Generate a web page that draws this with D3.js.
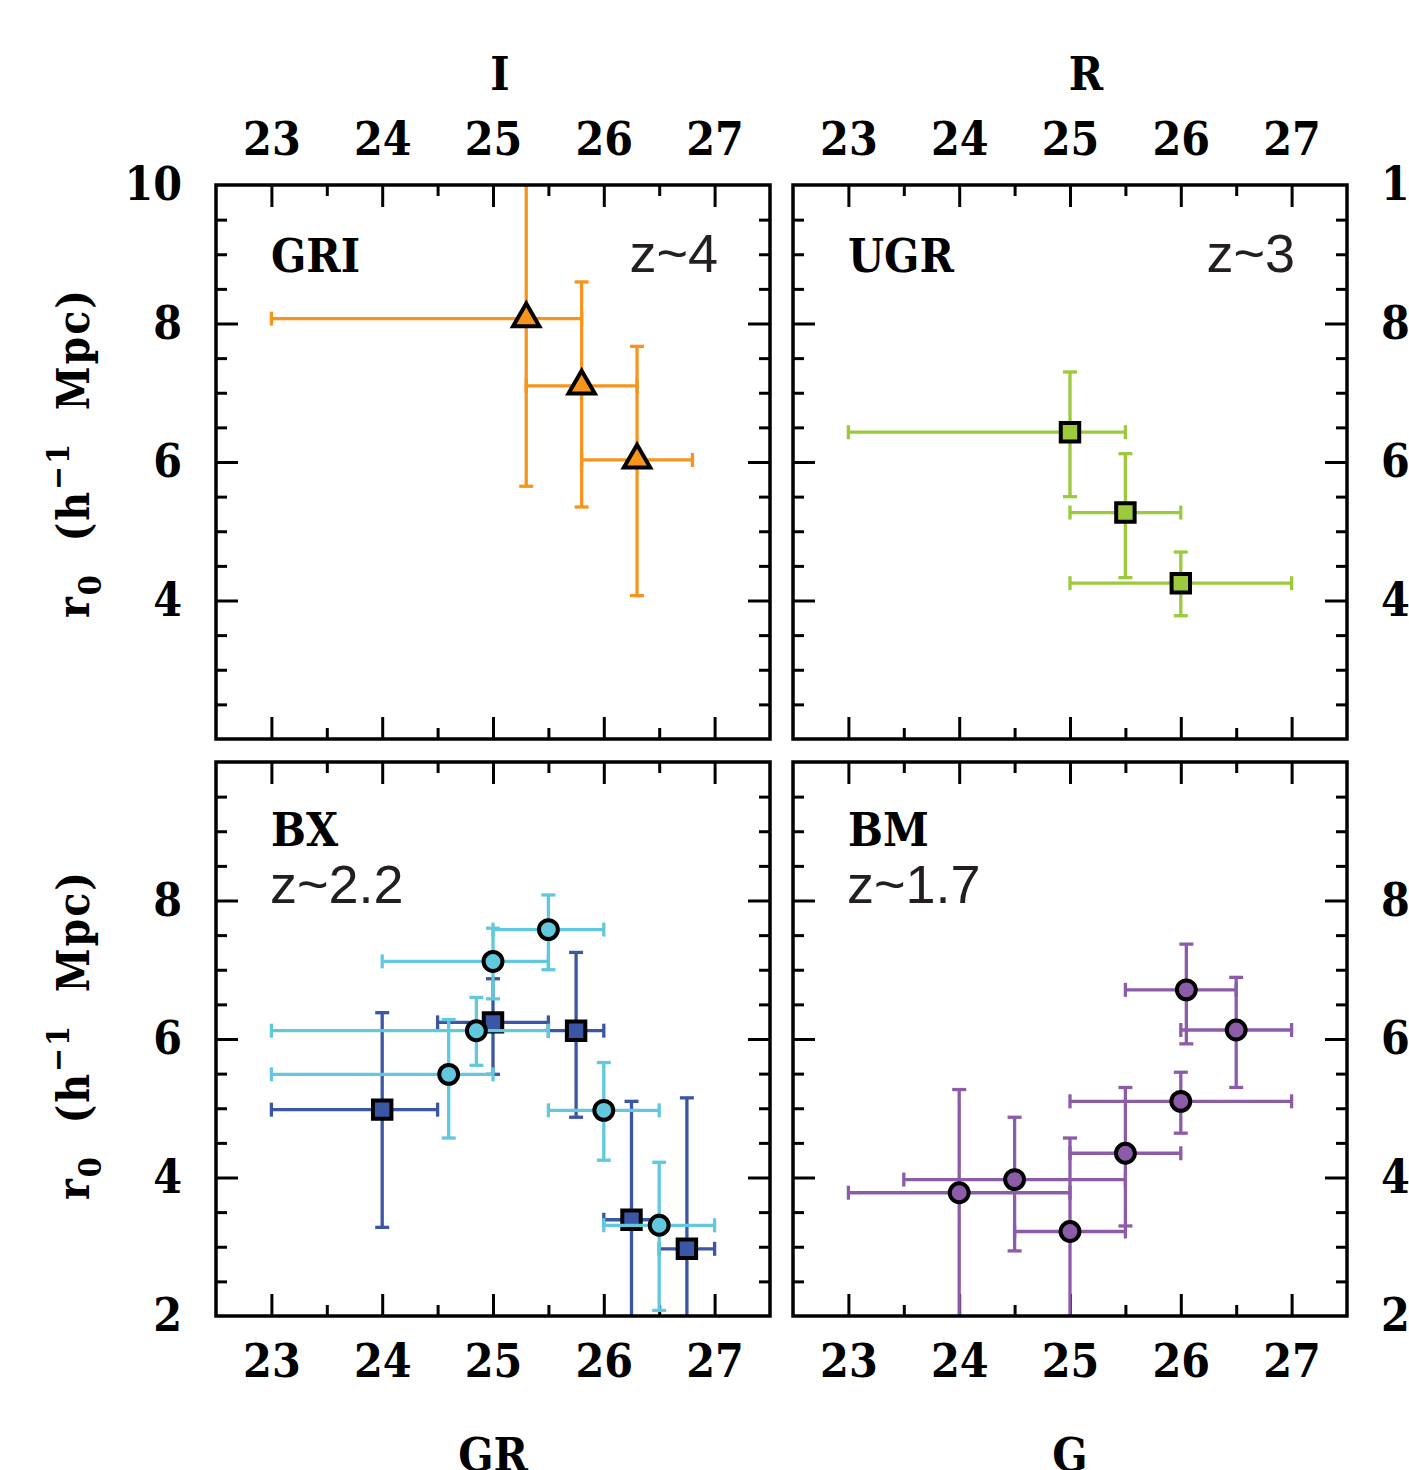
<!DOCTYPE html>
<html>
<head>
<meta charset="utf-8">
<script src="https://cdn.jsdelivr.net/npm/d3@7"></script>
<style>
  body { margin: 0; background: #fff; }
  svg { display: block; }
</style>
</head>
<body>
<div id="chart"></div>
<script>
// ---- data ----
const xTicksMajor = [23, 24, 25, 26, 27];
const xTicksMinor = [23.5, 24.5, 25.5, 26.5];
const yTicksMajor = [4, 6, 8];
const yTicksMinor = [2.5, 3, 3.5, 4.5, 5, 5.5, 6.5, 7, 7.5, 8.5, 9, 9.5];
const yLabelsTop = [4, 6, 8, 10];
const yLabelsBottom = [2, 4, 6, 8];

// GRI, z~4 (triangles)
const griX = [25.3, 25.8, 26.3];
const griY = [8.07, 7.1, 6.03];
const griXLo = [23.0, 25.3, 25.8];
const griXHi = [25.8, 26.3, 26.8];
const griYLo = [5.65, 5.35, 4.07];
const griYHi = [10.6, 8.6, 7.67];

// UGR, z~3 (squares)
const ugrX = [25.0, 25.5, 26.0];
const ugrY = [6.43, 5.27, 4.25];
const ugrXLo = [23.0, 25.0, 25.0];
const ugrXHi = [25.5, 26.0, 27.0];
const ugrYLo = [5.5, 4.33, 3.78];
const ugrYHi = [7.3, 6.12, 4.7];

// BX, z~2.2 (squares)
const bxSqX = [24.0, 25.0, 25.75, 26.25, 26.75];
const bxSqY = [4.98, 6.24, 6.12, 3.39, 2.97];
const bxSqXLo = [23.0, 24.5, 25.5, 26.0, 26.5];
const bxSqXHi = [24.5, 25.5, 26.0, 26.5, 27.0];
const bxSqYLo = [3.28, 5.49, 4.87, 1.5, 1.5];
const bxSqYHi = [6.38, 6.87, 7.25, 5.1, 5.15];

// BX, z~2.2 (circles)
const bxCiX = [24.6, 24.85, 25.0, 25.5, 26.0, 26.5];
const bxCiY = [5.49, 6.12, 7.12, 7.58, 4.97, 3.31];
const bxCiXLo = [23.0, 23.0, 24.0, 25.0, 25.5, 26.0];
const bxCiXHi = [25.0, 25.5, 25.5, 26.0, 26.5, 27.0];
const bxCiYLo = [4.57, 5.62, 6.58, 7.0, 4.25, 2.08];
const bxCiYHi = [6.28, 6.6, 7.6, 8.08, 5.66, 4.22];

// BM, z~1.7 (circles)
const bmX = [24.0, 24.5, 25.0, 25.5, 26.0, 26.05, 26.5];
const bmY = [3.78, 3.97, 3.22, 4.35, 5.1, 6.71, 6.13];
const bmXLo = [23.0, 23.5, 24.5, 25.0, 25.0, 25.5, 26.0];
const bmXHi = [25.0, 25.5, 25.5, 26.0, 27.0, 26.5, 27.0];
const bmYLo = [1.5, 2.94, 1.5, 3.3, 4.64, 5.93, 5.3];
const bmYHi = [5.27, 4.87, 4.57, 5.3, 5.52, 7.37, 6.89];

const series = (x, y, xlo, xhi, ylo, yhi) =>
  x.map((d, i) => ({ x: d, y: y[i], xlo: xlo[i], xhi: xhi[i], ylo: ylo[i], yhi: yhi[i] }));

const W = 1409, H = 1470, SIZE = 554;
const serifFont = `"DejaVu Serif Condensed", "DejaVu Serif", serif`;
const sansFont = `"Liberation Sans", Arial, sans-serif`;

const panels = [
  { left: 216, top: 185, name: `GRI`, z: `z~4`, zRight: true, yLabels: yLabelsTop, labelSide: `left`,
    xLabelSide: `top`, title: `I`, titleX: 500,
    sets: [{ data: series(griX, griY, griXLo, griXHi, griYLo, griYHi), color: `#f7941d`, mark: `triangle` }] },
  { left: 793, top: 185, name: `UGR`, z: `z~3`, zRight: true, yLabels: yLabelsTop, labelSide: `right`,
    xLabelSide: `top`, title: `R`, titleX: 1086,
    sets: [{ data: series(ugrX, ugrY, ugrXLo, ugrXHi, ugrYLo, ugrYHi), color: `#9bca3c`, mark: `square` }] },
  { left: 216, top: 762, name: `BX`, z: `z~2.2`, zRight: false, yLabels: yLabelsBottom, labelSide: `left`,
    xLabelSide: `bottom`, title: `GR`, titleX: 493,
    sets: [
      { data: series(bxSqX, bxSqY, bxSqXLo, bxSqXHi, bxSqYLo, bxSqYHi), color: `#3a56a5`, mark: `square` },
      { data: series(bxCiX, bxCiY, bxCiXLo, bxCiXHi, bxCiYLo, bxCiYHi), color: `#62c8de`, mark: `circle` }
    ] },
  { left: 793, top: 762, name: `BM`, z: `z~1.7`, zRight: false, yLabels: yLabelsBottom, labelSide: `right`,
    xLabelSide: `bottom`, title: `G`, titleX: 1070,
    sets: [{ data: series(bmX, bmY, bmXLo, bmXHi, bmYLo, bmYHi), color: `#8c5ca8`, mark: `circle` }] }
];

const svg = d3.select(`#chart`).append(`svg`)
    .attr(`width`, W)
    .attr(`height`, H)
    .attr(`viewBox`, `0 0 ${W} ${H}`);

const defs = svg.append(`defs`);

const serifText = (sel, size) => sel
    .style(`font-family`, serifFont)
    .style(`font-stretch`, `condensed`)
    .style(`font-weight`, `bold`)
    .style(`font-size`, `${size}px`);

const styleTicks = (g, width) => {
  g.select(`.domain`).remove();
  g.selectAll(`.tick line`).attr(`stroke`, `#000`).attr(`stroke-width`, width);
};

const styleLabels = (g) => {
  g.select(`.domain`).remove();
  g.selectAll(`.tick line`).remove();
  g.selectAll(`.tick text`).attr(`fill`, `#000`).call(serifText, 46);
};

panels.forEach((p, pi) => {
  const x = d3.scaleLinear().domain([22.5, 27.5]).range([p.left, p.left + SIZE]);
  const y = d3.scaleLinear().domain([2, 10]).range([p.top + SIZE, p.top]);
  const right = p.left + SIZE, bottom = p.top + SIZE;

  defs.append(`clipPath`).attr(`id`, `clip${pi}`)
    .append(`rect`)
      .attr(`x`, p.left).attr(`y`, p.top)
      .attr(`width`, SIZE).attr(`height`, SIZE);

  const g = svg.append(`g`);

  // inward ticks on all four sides
  [[xTicksMajor, 22], [xTicksMinor, 11]].forEach(([vals, len]) => {
    g.append(`g`).attr(`transform`, `translate(0,${bottom})`)
      .call(d3.axisBottom(x).tickValues(vals).tickSize(-len).tickFormat(``))
      .call(styleTicks, 3);
    g.append(`g`).attr(`transform`, `translate(0,${p.top})`)
      .call(d3.axisTop(x).tickValues(vals).tickSize(-len).tickFormat(``))
      .call(styleTicks, 3);
  });
  [[yTicksMajor, 22], [yTicksMinor, 11]].forEach(([vals, len]) => {
    g.append(`g`).attr(`transform`, `translate(${p.left},0)`)
      .call(d3.axisLeft(y).tickValues(vals).tickSize(-len).tickFormat(``))
      .call(styleTicks, 3);
    g.append(`g`).attr(`transform`, `translate(${right},0)`)
      .call(d3.axisRight(y).tickValues(vals).tickSize(-len).tickFormat(``))
      .call(styleTicks, 3);
  });

  // tick labels
  if (p.labelSide === `left`) {
    g.append(`g`).attr(`transform`, `translate(${p.left},0)`)
      .call(d3.axisLeft(y).tickValues(p.yLabels).tickSize(0).tickPadding(34).tickFormat(d3.format(`d`)))
      .call(styleLabels);
  } else {
    g.append(`g`).attr(`transform`, `translate(${right},0)`)
      .call(d3.axisRight(y).tickValues(p.yLabels).tickSize(0).tickPadding(34).tickFormat(d3.format(`d`)))
      .call(styleLabels);
  }
  if (p.xLabelSide === `top`) {
    g.append(`g`).attr(`transform`, `translate(0,${p.top})`)
      .call(d3.axisTop(x).tickValues(xTicksMajor).tickSize(0).tickPadding(30).tickFormat(d3.format(`d`)))
      .call(styleLabels);
    g.append(`text`)
        .attr(`x`, p.titleX).attr(`y`, 90)
        .attr(`text-anchor`, `middle`)
        .call(serifText, 46)
        .text(p.title);
  } else {
    g.append(`g`).attr(`transform`, `translate(0,${bottom})`)
      .call(d3.axisBottom(x).tickValues(xTicksMajor).tickSize(0).tickPadding(28).tickFormat(d3.format(`d`)))
      .call(styleLabels);
    g.append(`text`)
        .attr(`x`, p.titleX).attr(`y`, 1471)
        .attr(`text-anchor`, `middle`)
        .call(serifText, 46)
        .text(p.title);
  }

  // panel texts
  g.append(`text`)
      .attr(`x`, p.left + 55).attr(`y`, p.zRight ? p.top + 87 : p.top + 84)
      .call(serifText, 46)
      .text(p.name);
  g.append(`text`)
      .attr(`x`, p.zRight ? right - 52 : p.left + 54)
      .attr(`y`, p.zRight ? p.top + 87 : p.top + 141)
      .attr(`text-anchor`, p.zRight ? `end` : `start`)
      .attr(`fill`, `#231f20`)
      .style(`font-family`, sansFont).style(`font-size`, `54px`)
      .text(p.z);

  // data
  const plot = g.append(`g`).attr(`clip-path`, `url(#clip${pi})`);
  const cap = 7;
  p.sets.forEach((s) => {
    const eb = plot.append(`g`)
        .attr(`stroke`, s.color)
        .attr(`stroke-width`, 3.3)
        .attr(`fill`, `none`);
    const pts = eb.selectAll(`g`).data(s.data).enter().append(`g`);
    pts.append(`line`)
        .attr(`x1`, (d) => x(d.xlo)).attr(`x2`, (d) => x(d.xhi))
        .attr(`y1`, (d) => y(d.y)).attr(`y2`, (d) => y(d.y));
    pts.append(`line`)
        .attr(`x1`, (d) => x(d.x)).attr(`x2`, (d) => x(d.x))
        .attr(`y1`, (d) => y(d.ylo)).attr(`y2`, (d) => y(d.yhi));
    [`xlo`, `xhi`].forEach((k) => {
      pts.append(`line`)
          .attr(`x1`, (d) => x(d[k])).attr(`x2`, (d) => x(d[k]))
          .attr(`y1`, (d) => y(d.y) - cap).attr(`y2`, (d) => y(d.y) + cap);
    });
    [`ylo`, `yhi`].forEach((k) => {
      pts.append(`line`)
          .attr(`x1`, (d) => x(d.x) - cap).attr(`x2`, (d) => x(d.x) + cap)
          .attr(`y1`, (d) => y(d[k])).attr(`y2`, (d) => y(d[k]));
    });

    const symType = s.mark === `triangle` ? d3.symbolTriangle
      : s.mark === `square` ? d3.symbolSquare : d3.symbolCircle;
    const symSize = s.mark === `triangle` ? 300 : s.mark === `square` ? 340 : 280;
    plot.append(`g`).selectAll(`path`)
        .data(s.data)
      .enter().append(`path`)
        .attr(`d`, d3.symbol().type(symType).size(symSize))
        .attr(`transform`, (d) => `translate(${x(d.x)},${y(d.y)})`)
        .attr(`fill`, s.color)
        .attr(`stroke`, `#000`)
        .attr(`stroke-width`, 4)
        .attr(`stroke-linejoin`, `miter`);
  });

  // frame
  g.append(`rect`)
      .attr(`x`, p.left).attr(`y`, p.top)
      .attr(`width`, SIZE).attr(`height`, SIZE)
      .attr(`fill`, `none`)
      .attr(`stroke`, `#000`)
      .attr(`stroke-width`, 3.5);
});

// y axis titles: r0 (h^-1 Mpc)
[453, 1035].forEach((cy) => {
  const t = svg.append(`text`)
      .attr(`transform`, `translate(89,${cy}) rotate(-90)`)
      .attr(`text-anchor`, `middle`)
      .style(`letter-spacing`, `2px`)
      .style(`white-space`, `pre`)
      .call(serifText, 44);
  t.append(`tspan`).text(`r`);
  t.append(`tspan`).attr(`dy`, 12).style(`font-size`, `32px`).text(`0`);
  t.append(`tspan`).attr(`dy`, -12).text(`  (h`);
  t.append(`tspan`).attr(`dy`, -20).style(`font-size`, `32px`).text(`\u22121`);
  t.append(`tspan`).attr(`dy`, 20).text(`  Mpc)`);
});
</script>
</body>
</html>
